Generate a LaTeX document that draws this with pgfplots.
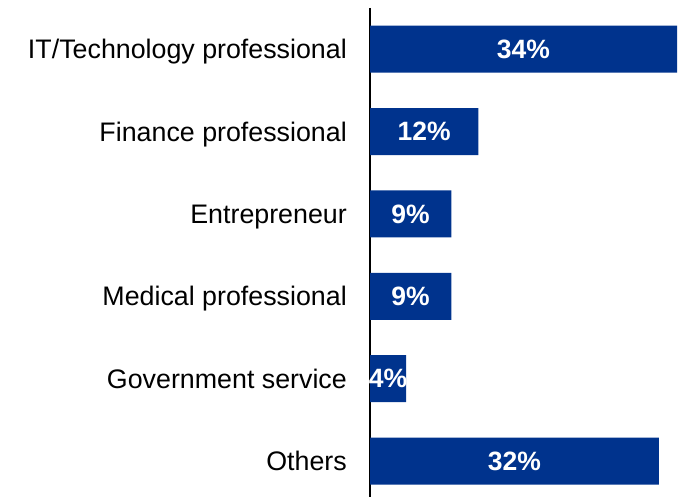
\documentclass[border=0pt]{standalone}
\usepackage{pgfplots}
\pgfplotsset{compat=1.18}
\usepackage{fontspec}
\setmainfont{Liberation Sans}
\definecolor{barblue}{RGB}{0,51,141}
\begin{document}
\begin{tikzpicture}[x=1pt,y=1pt]
\useasboundingbox (0,0) rectangle (682,497);
\begin{axis}[
  at={(370pt,0pt)}, anchor=south west,
  scale only axis, width=307pt, height=489pt,
  xmin=0, xmax=34, ymin=-0.5, ymax=5.437, y dir=reverse,
  axis x line=none, axis y line=left,
  axis line style={-, black, line width=1.5pt},
  ytick={0,1,2,3,4,5},
  yticklabels={IT/Technology professional, Finance professional, Entrepreneur, Medical professional, Government service, Others},
  major tick length=0pt, ytick style={draw=none},
  yticklabel style={font=\fontsize{26.8}{26.8}\selectfont, anchor=base east, inner sep=0pt, xshift=-23pt, yshift=-9.5pt, text=black},
  clip=false,
]
\addplot[xbar, bar width=47pt, bar shift=0pt, fill=barblue, draw=none] coordinates {
  (34,0) (12,1) (9,2) (9,3) (4,4) (32,5)
};
\addplot[only marks, mark=none, nodes near coords, point meta=explicit symbolic,
  nodes near coords style={anchor=center, text=white, inner sep=0pt, font=\bfseries\fontsize{26.5}{26.5}\selectfont}]
  table[x=h, y=y, meta=lab] {
h y lab
17 0 34\%
6 1 12\%
4.5 2 9\%
4.5 3 9\%
2 4 4\%
16 5 32\%
};
\end{axis}
\end{tikzpicture}
\end{document}
